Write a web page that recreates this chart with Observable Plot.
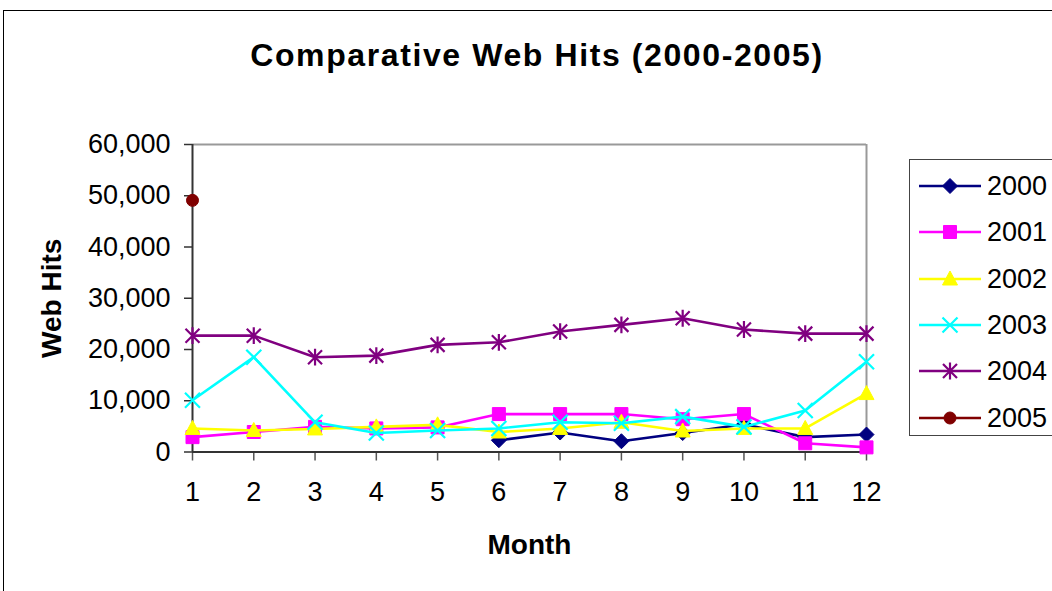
<!DOCTYPE html>
<html>
<head>
<meta charset="utf-8">
<script src="https://cdn.jsdelivr.net/npm/d3@7"></script>
<script src="https://cdn.jsdelivr.net/npm/@observablehq/plot@0.6"></script>
<style>
  html, body { margin: 0; padding: 0; background: #fff; }
  #wrap { position: relative; width: 1052px; height: 591px; overflow: hidden; font-family: "Liberation Sans", Arial, sans-serif; color: #000; }
  #border { position: absolute; left: 3px; top: 10px; width: 1100px; height: 700px; border-top: 1.5px solid #000; border-left: 1.5px solid #000; box-sizing: border-box; }
  #title { position: absolute; left: 0; width: 1074px; top: 35px; text-align: center; font-weight: bold; font-size: 32px; letter-spacing: 1.6px; line-height: 40px; white-space: nowrap; }
  #chart { position: absolute; left: 0; top: 0; }
  #legend { position: absolute; left: 909px; top: 159px; width: 170px; height: 277px; border: 1.5px solid #444; box-sizing: border-box; background: #fff; }
  .row { position: absolute; left: 0; height: 30px; }
  .row svg { position: absolute; left: 0; top: 0; overflow: visible; }
  .row span { position: absolute; left: 77px; top: 0; line-height: 30px; font-size: 27px; white-space: nowrap; }
</style>
</head>
<body>
<div id="wrap">
  <div id="border"></div>
  <div id="title">Comparative Web Hits (2000-2005)</div>
  <div id="chart"></div>
  <div id="legend"></div>
</div>
<script>
// ---- data ----
const months = [1, 2, 3, 4, 5, 6, 7, 8, 9, 10, 11, 12];
const years = ["2000", "2001", "2002", "2003", "2004", "2005"];
const hits2000 = [null, null, null, null, null, 2300, 3800, 2100, 3700, 5400, 2900, 3400];
const hits2001 = [2900, 3900, 4900, 4600, 4800, 7400, 7400, 7400, 6400, 7400, 1700, 900];
const hits2002 = [4600, 4200, 4500, 4900, 5300, 3900, 4600, 5800, 4100, 4600, 4600, 11400];
const hits2003 = [10100, 18500, 5800, 3700, 4200, 4600, 5800, 5600, 6900, 4900, 8100, 17600];
const hits2004 = [22700, 22700, 18500, 18800, 20900, 21400, 23500, 24800, 26100, 23900, 23100, 23100];
const hits2005 = [49100, null, null, null, null, null, null, null, null, null, null, null];
const yTicks = [0, 10000, 20000, 30000, 40000, 50000, 60000];
const colors = ["#000080", "#FF00FF", "#FFFF00", "#00FFFF", "#800080", "#800000"];

// ---- custom marker symbols (unit = sqrt(size/pi)) ----
const k = s => Math.sqrt(s / Math.PI);
const symDiamond = { draw(c, s) { const r = 7.5 * k(s); c.moveTo(0, -r); c.lineTo(r, 0); c.lineTo(0, r); c.lineTo(-r, 0); c.closePath(); } };
const symSquare = { draw(c, s) { const r = 6.5 * k(s); c.rect(-r, -r, 2 * r, 2 * r); } };
const symTriangle = { draw(c, s) { const u = k(s); c.moveTo(0, -8 * u); c.lineTo(7.5 * u, 6 * u); c.lineTo(-7.5 * u, 6 * u); c.closePath(); } };
const symTimes = { draw(c, s) { const r = 7.5 * k(s); c.moveTo(-r, -r); c.lineTo(r, r); c.moveTo(r, -r); c.lineTo(-r, r); } };
const symAster = { draw(c, s) { const r = 7 * k(s); c.moveTo(-r, -r); c.lineTo(r, r); c.moveTo(r, -r); c.lineTo(-r, r); c.moveTo(0, -r * 1.2); c.lineTo(0, r * 1.2); } };
const symCircle = { draw(c, s) { const r = 6 * k(s); c.moveTo(r, 0); c.arc(0, 0, r, 0, 2 * Math.PI); } };
const symbols = [symDiamond, symSquare, symTriangle, symTimes, symAster, symCircle];
const filled = [true, true, true, false, false, true];

const seriesValues = [hits2000, hits2001, hits2002, hits2003, hits2004, hits2005];
const seriesData = seriesValues.map((vals, i) =>
  months.map((m, j) => ({ month: m, hits: vals[j], year: years[i] })).filter(d => d.hits != null)
);

const seriesMarks = seriesData.flatMap((data, i) => [
  Plot.line(data, { x: "month", y: "hits", stroke: colors[i], strokeWidth: 2.6 }),
  Plot.dot(data, {
    x: "month", y: "hits", r: 1, symbol: () => symbols[i],
    fill: filled[i] ? colors[i] : "none",
    stroke: colors[i], strokeWidth: filled[i] ? 1 : 2.2
  })
]);

const chart = Plot.plot({
  width: 1052,
  height: 591,
  marginLeft: 192,
  marginRight: 186,
  marginTop: 144,
  marginBottom: 139.5,
  x: { domain: [1, 12] },
  y: { domain: [0, 60000] },
  style: { fontFamily: "'Liberation Sans', Arial, sans-serif", color: "#000", background: "transparent", overflow: "visible" },
  marks: [
    Plot.ruleY([60000], { stroke: "#999", strokeWidth: 2 }),
    Plot.ruleX([12], { stroke: "#999", strokeWidth: 2 }),
    Plot.axisY({ ticks: yTicks, tickFormat: d3.format(","), tickSize: 8, tickPadding: 14, fontSize: 27, label: null, stroke: "#333", strokeWidth: 1.5 }),
    Plot.axisX({ ticks: months, tickFormat: d => String(d), tickSize: 9, tickPadding: 21, fontSize: 27, label: null, stroke: "#555", strokeWidth: 1.5 }),
    Plot.ruleX([1], { stroke: "#333", strokeWidth: 2 }),
    Plot.ruleY([0], { stroke: "#333", strokeWidth: 2 }),
    ...seriesMarks,
    Plot.text(["Month"], { text: d => d, frameAnchor: "bottom", dy: 102, fontWeight: "bold", fontSize: 28 }),
    Plot.text(["Web Hits"], { text: d => d, frameAnchor: "left", textAnchor: "middle", dx: -140, rotate: -90, fontWeight: "bold", fontSize: 28 })
  ]
});
document.getElementById("chart").appendChild(chart);

// ---- legend ----
const legend = d3.select("#legend");
years.forEach((yr, i) => {
  const cy = 185 + i * 46.3 - 159;
  const row = legend.append("div").attr("class", "row").style("top", (cy - 15) + "px");
  const svg = row.append("svg").attr("width", 75).attr("height", 30);
  svg.append("line").attr("x1", 9).attr("x2", 71).attr("y1", 15).attr("y2", 15)
    .attr("stroke", colors[i]).attr("stroke-width", 2.5);
  svg.append("path").attr("transform", "translate(40,15)")
    .attr("d", d3.symbol(symbols[i], Math.PI)())
    .attr("fill", filled[i] ? colors[i] : "none")
    .attr("stroke", colors[i]).attr("stroke-width", filled[i] ? 1 : 2.2);
  row.append("span").text(yr);
});
</script>
</body>
</html>
